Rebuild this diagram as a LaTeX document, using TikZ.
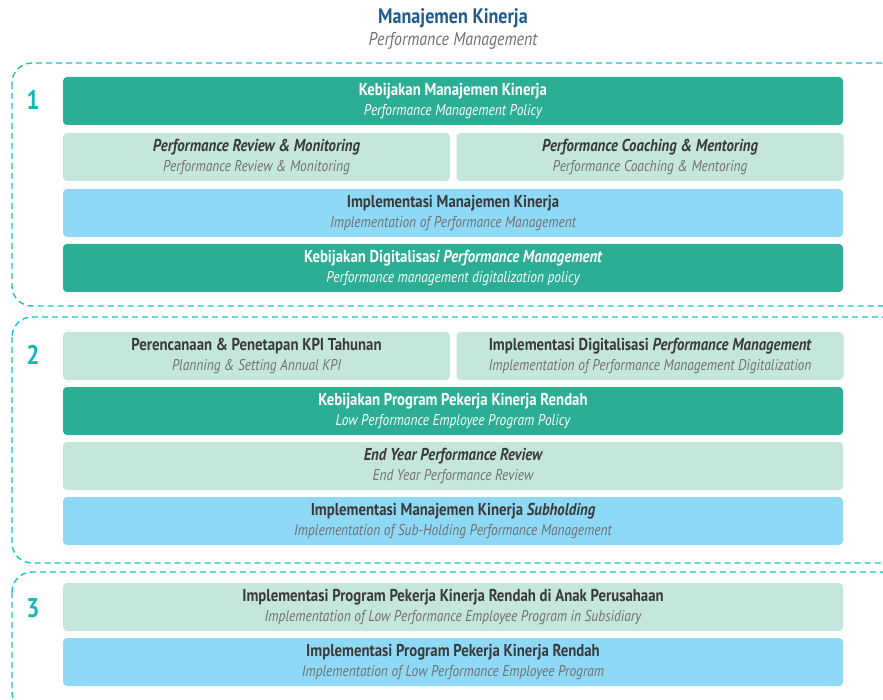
\documentclass[tikz,border=0pt]{standalone}
\usepackage{fontspec}
\setmainfont{PT Sans}[FakeStretch=0.86]
\definecolor{teal}{HTML}{2BAE93}
\definecolor{lightg}{HTML}{C5E6DC}
\definecolor{skyb}{HTML}{8ED9F6}
\definecolor{dashc}{HTML}{1FC0C0}
\definecolor{numc}{HTML}{19B6B8}
\definecolor{titc}{HTML}{1D5B90}
\definecolor{darkt}{HTML}{3A3A3A}
\definecolor{grayt}{HTML}{707070}
\newcommand{\boxtext}[2]{{\fontsize{17.2}{19.5}\selectfont\bfseries #1}\\{\itshape #2}}
\tikzset{
  cell/.style={rounded corners=4pt, minimum height=48pt, align=center,
    inner sep=0pt, font=\fontsize{15.6}{19.5}\selectfont},
  tealcell/.style={cell, fill=teal, text=white},
  lightcell/.style={cell, fill=lightg, text=darkt},
  bluecell/.style={cell, fill=skyb, text=darkt},
  full/.style={minimum width=780pt},
  half/.style={minimum width=387pt},
  section/.style={draw=dashc, line width=1.4pt, dash pattern=on 6pt off 4pt, rounded corners=20pt},
  num/.style={text=numc, font=\fontsize{27}{27}\selectfont\bfseries},
}
\newcommand{\gr}[1]{\textcolor{grayt}{#1}}
\begin{document}
\begin{tikzpicture}[x=1pt,y=-1pt]
\path[use as bounding box, clip] (0,0) rectangle (883,700);
% title
\node[text=titc, font=\fontsize{21}{21}\selectfont\bfseries] (title) at (453,18) {Manajemen Kinerja};
\node[text=grayt, font=\fontsize{18.5}{18.5}\selectfont\itshape] (subtitle) at (453,41) {Performance Management};
% sections
\draw[section] (12,63) rectangle (902,306);
\draw[section] (12,317) rectangle (902,563);
\draw[section] (12,572) rectangle (902,712);
\node[num] (n1) at (33,100) {1};
\node[num] (n2) at (33,355) {2};
\node[num] (n3) at (33,608) {3};
% section 1
\node[tealcell, full] (b1) at (453,101) {\boxtext{Kebijakan Manajemen Kinerja}{Performance Management Policy}};
\node[lightcell, half] (b2a) at (256.5,157) {\boxtext{\itshape Performance Review \& Monitoring}{\gr{Performance Review \& Monitoring}}};
\node[lightcell, half] (b2b) at (650,157) {\boxtext{\itshape Performance Coaching \& Mentoring}{\gr{Performance Coaching \& Mentoring}}};
\node[bluecell, full] (b3) at (453,213) {\boxtext{Implementasi Manajemen Kinerja}{\gr{Implementation of Performance Management}}};
\node[tealcell, full] (b4) at (453,268) {\boxtext{Kebijakan Digitalisas{\itshape i Performance Management}}{Performance management digitalization policy}};
% section 2
\node[lightcell, half] (b5a) at (256.5,356) {\boxtext{Perencanaan \& Penetapan KPI Tahunan}{\gr{Planning \& Setting Annual KPI}}};
\node[lightcell, half] (b5b) at (650,356) {\boxtext{Implementasi Digitalisasi {\itshape Performance Management}}{\gr{Implementation of Performance Management Digitalization}}};
\node[tealcell, full] (b6) at (453,411) {\boxtext{Kebijakan Program Pekerja Kinerja Rendah}{Low Performance Employee Program Policy}};
\node[lightcell, full] (b7) at (453,466) {\boxtext{\itshape End Year Performance Review}{\gr{End Year Performance Review}}};
\node[bluecell, full] (b8) at (453,521) {\boxtext{Implementasi Manajemen Kinerja {\itshape Subholding}}{\gr{Implementation of Sub-Holding Performance Management}}};
% section 3
\node[lightcell, full] (b9) at (453,607) {\boxtext{Implementasi Program Pekerja Kinerja Rendah di Anak Perusahaan}{\gr{Implementation of Low Performance Employee Program in Subsidiary}}};
\node[bluecell, full] (b10) at (453,662) {\boxtext{Implementasi Program Pekerja Kinerja Rendah}{\gr{Implementation of Low Performance Employee Program}}};
\end{tikzpicture}
\end{document}
